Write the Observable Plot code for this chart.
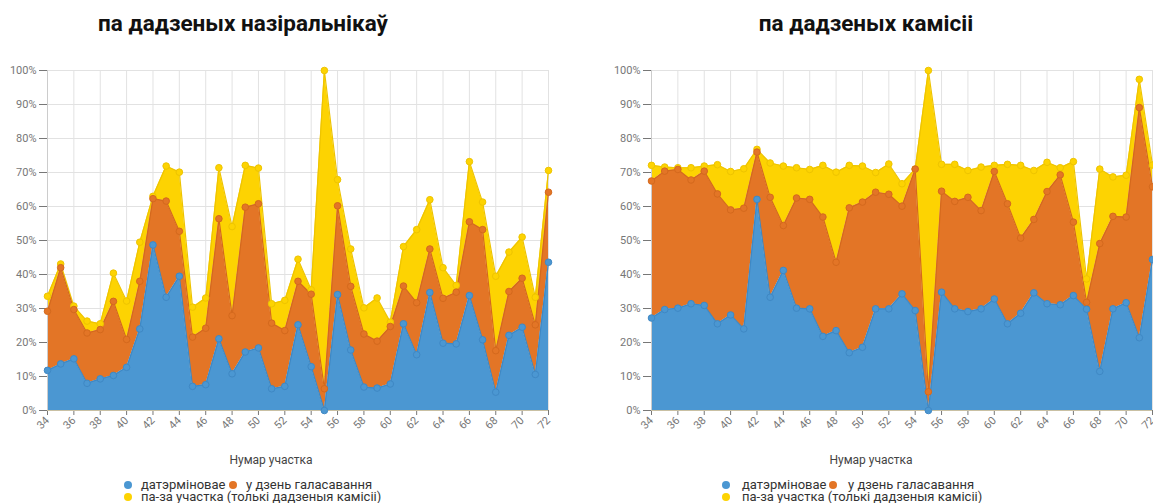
<!DOCTYPE html>
<html>
<head>
<meta charset="utf-8">
<script src="https://cdn.jsdelivr.net/npm/d3@7"></script>
<script src="https://cdn.jsdelivr.net/npm/@observablehq/plot@0.6"></script>
<style>
  html, body { margin: 0; padding: 0; background: #fff; }
  #wrap { position: relative; width: 1153px; height: 503px; overflow: hidden; font-family: Roboto, "Open Sans", sans-serif; }
  .title { position: absolute; font-size: 22.5px; line-height: 22px; font-weight: 700; color: #111; text-align: center; white-space: nowrap; }
  .xlabel { position: absolute; font-size: 12px; line-height: 12px; color: #444; text-align: center; white-space: nowrap; }
  .panel { position: absolute; top: 0; }
  .lg { position: absolute; font-size: 13px; line-height: 12px; height: 12px; color: #333; white-space: nowrap; }
  .dot { position: absolute; width: 8px; height: 8px; border-radius: 50%; }
</style>
</head>
<body>
<div id="wrap"></div>
<script>
// Station numbers (x categories)
const stations = [34,35,36,37,38,39,40,41,42,43,44,45,46,47,48,49,50,51,52,53,54,55,56,57,58,59,60,61,62,63,64,65,66,67,68,69,70,71,72];

// Panel titles & labels
const titles = ["па дадзеных назіральнікаў", "па дадзеных камісіі"];
const xAxisLabel = "Нумар участка";
const seriesNames = ["датэрміновае", "у дзень галасавання", "па-за участка (толькі дадзеныя камісіі)"];

// Observers' data: cumulative tops of each stacked layer (%)
const obsEarly   = [11.8,13.7,15.2,8.0,9.3,10.3,12.7,24.0,48.7,33.3, 39.5,7.1,7.6,21.1,10.8,17.2,18.4,6.4,7.1, 25.2,12.9,0,34.1,17.8,6.9,6.6,7.8,25.5,16.4, 34.7,19.8,19.6,33.8,20.8,5.4,22.1,24.5,10.6,43.6];
const obsDay     = [29.2,42.0,29.7,22.8,23.8,32.1,20.9,38.0,62.3,61.6, 52.7,21.6,24.2,56.4,27.9,59.8,60.8,25.7,23.5, 38.0,34.2,6.4,60.2,36.5,22.5,20.4,24.7,36.6,31.7, 47.5,33.0,34.8,55.5,53.2,17.6,35.0,38.9,25.2,64.2];
const obsOutside = [33.6,43.1,30.7,26.3,25.5,40.4,32.2,49.5,63.0,71.9, 70.1,30.4,33.1,71.4,54.1,72.1,71.3,31.4,32.4, 44.5,35.5,100,67.9,47.5,30.2,33.1,26.0,48.2,53.2, 62.0,42.0,36.8,73.2,61.3,39.5,46.6,51.0,33.3,70.6];

// Commission data: cumulative tops of each stacked layer (%)
const comEarly   = [27.2,29.7,30.1,31.4,30.9,25.5,28.1,24.0,62.1,33.3, 41.2,30.1,29.9,21.8,23.5,17.0,18.6,29.9,29.9, 34.3,29.4,0,34.8,29.9,29.1,29.9,32.8,25.5,28.6, 34.6,31.4,31.1,33.8,29.8,11.5,29.9,31.7,21.4,44.4];
const comDay     = [67.5,70.4,70.9,67.8,70.4,63.7,59.0,59.5,76.0,62.7, 54.4,62.5,62.1,56.9,43.6,59.6,61.3,64.2,63.6, 60.1,71.0,5.5,64.5,61.5,62.7,58.8,70.3,60.8,50.7, 56.2,64.4,69.3,55.4,31.8,49.1,57.1,56.9,89.1,65.8];
const comOutside = [72.1,71.6,71.4,71.4,71.9,72.3,70.3,71.1,76.8,72.8, 71.9,71.4,70.9,72.1,70.1,72.1,71.9,70.0,72.5, 66.7,71.0,100,72.4,72.4,70.6,71.6,72.1,72.4,72.1, 70.6,73.0,71.4,73.2,38.7,71.0,68.7,69.2,97.4,72.2];

const yTicks = [0,10,20,30,40,50,60,70,80,90,100];
const xTicks = [34,36,38,40,42,44,46,48,50,52,54,56,58,60,62,64,66,68,70,72];

const colors = { blue: "#4b97d2", orange: "#e37526", yellow: "#fdd302" };
const edges  = { blue: "#3f88c4", orange: "#d4691d", yellow: "#eec400" };

function panel(early, day, outside, layout) {
  const rows = stations.map((s, i) => ({ s, early: early[i], day: day[i], out: outside[i] }));
  return Plot.plot({
    width: layout.width,
    height: 440,
    marginLeft: layout.ml,
    marginRight: layout.mr,
    marginTop: 70,
    marginBottom: 30,
    style: { fontFamily: "Roboto, 'Open Sans', sans-serif", fontSize: "11px", color: "#777", background: "transparent", overflow: "visible" },
    x: { domain: [34, 72], ticks: xTicks, tickFormat: d => String(d), tickRotate: -45, label: null, tickSize: 5, tickPadding: 3 },
    y: { domain: [0, 100], ticks: yTicks, tickFormat: d => d + "%", label: null, tickSize: 8, tickPadding: 3 },
    marks: [
      Plot.ruleX(xTicks, { stroke: "#e2e2e2", strokeWidth: 1 }),
      Plot.ruleY(yTicks, { stroke: "#e2e2e2", strokeWidth: 1 }),
      Plot.areaY(rows, { x: "s", y1: "day", y2: "out", fill: colors.yellow }),
      Plot.areaY(rows, { x: "s", y1: "early", y2: "day", fill: colors.orange }),
      Plot.areaY(rows, { x: "s", y1: 0, y2: "early", fill: colors.blue }),
      Plot.line(rows, { x: "s", y: "out", stroke: edges.yellow, strokeWidth: 1.2 }),
      Plot.line(rows, { x: "s", y: "day", stroke: edges.orange, strokeWidth: 1.2 }),
      Plot.line(rows, { x: "s", y: "early", stroke: edges.blue, strokeWidth: 1.2 }),
      Plot.ruleY([0], { stroke: "#c9c0a3", strokeWidth: 1.2 }),
      Plot.ruleX([34], { stroke: "#ccc", strokeWidth: 1 }),
      Plot.dot(rows, { x: "s", y: "out", r: 3.3, fill: colors.yellow, stroke: edges.yellow, strokeWidth: 1 }),
      Plot.dot(rows, { x: "s", y: "day", r: 3.3, fill: colors.orange, stroke: edges.orange, strokeWidth: 1 }),
      Plot.dot(rows, { x: "s", y: "early", r: 3.3, fill: colors.blue, stroke: edges.blue, strokeWidth: 1 })
    ]
  });
}

const wrap = document.getElementById("wrap");

const layouts = [
  { left: 0,   width: 576, ml: 47, mr: 28, titleCenter: 243, labelCenter: 271, dot1: 128, text1: 141, dot2: 233, text2: 246 },
  { left: 576, width: 577, ml: 75, mr: 1,  titleCenter: 866, labelCenter: 871, dot1: 726, text1: 742, dot2: 833, text2: 848 }
];
const datasets = [[obsEarly, obsDay, obsOutside], [comEarly, comDay, comOutside]];

layouts.forEach((L, k) => {
  const p = panel(...datasets[k], L);
  const holder = document.createElement("div");
  holder.className = "panel";
  holder.style.left = L.left + "px";
  holder.appendChild(p);
  wrap.appendChild(holder);

  const t = document.createElement("div");
  t.className = "title";
  t.textContent = titles[k];
  t.style.left = (L.titleCenter - 300) + "px";
  t.style.width = "600px";
  t.style.top = "12px";
  wrap.appendChild(t);

  const xl = document.createElement("div");
  xl.className = "xlabel";
  xl.textContent = xAxisLabel;
  xl.style.left = (L.labelCenter - 100) + "px";
  xl.style.width = "200px";
  xl.style.top = "454px";
  wrap.appendChild(xl);

  const items = [
    { c: colors.blue,   dx: L.dot1, tx: L.text1, top: 479, name: seriesNames[0] },
    { c: colors.orange, dx: L.dot2, tx: L.text2, top: 479, name: seriesNames[1] },
    { c: colors.yellow, dx: L.dot1, tx: L.text1, top: 491, name: seriesNames[2] }
  ];
  items.forEach(it => {
    const d = document.createElement("div");
    d.className = "dot";
    d.style.background = it.c;
    d.style.left = (it.dx - 4) + "px";
    d.style.top = (it.top + 2) + "px";
    wrap.appendChild(d);
    const s = document.createElement("div");
    s.className = "lg";
    s.textContent = it.name;
    s.style.left = it.tx + "px";
    s.style.top = it.top + "px";
    wrap.appendChild(s);
  });
});
</script>
</body>
</html>
